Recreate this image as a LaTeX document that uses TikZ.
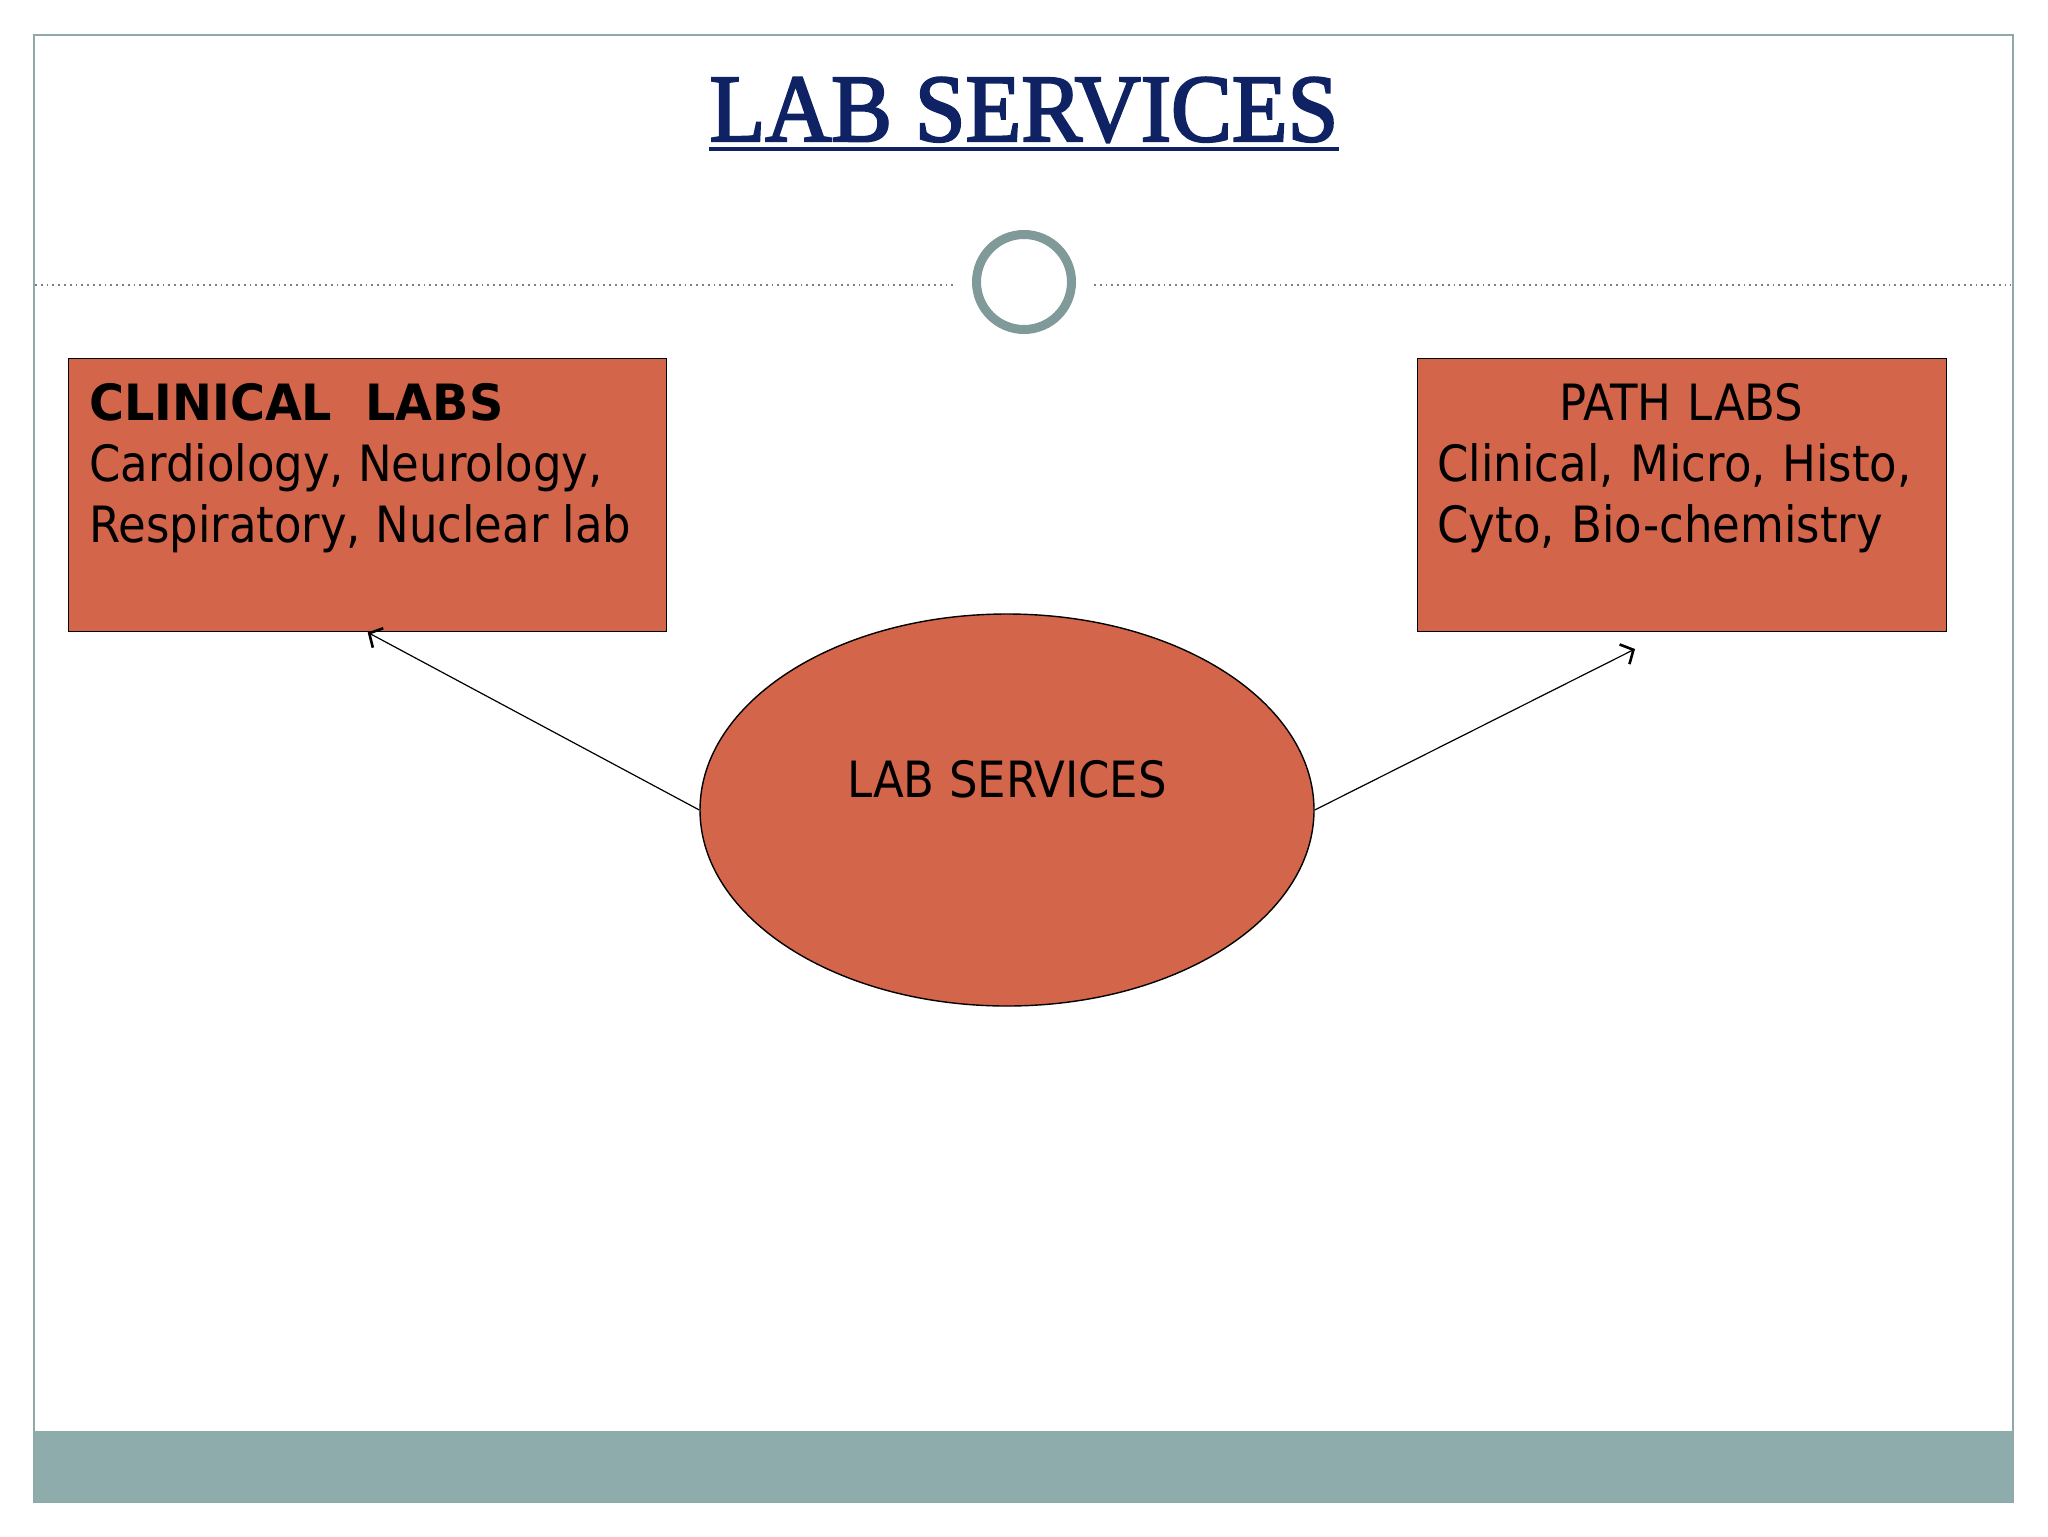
\documentclass[tikz,border=0pt]{standalone}
\usepackage{fontspec}
\setmainfont{DejaVu Sans Condensed}
\newfontfamily\titlefont[FakeBold=2.5]{Liberation Serif}
\usetikzlibrary{shapes.geometric, arrows.meta}
\definecolor{labred}{RGB}{211,101,75}
\definecolor{titlenavy}{RGB}{15,35,100}
\definecolor{framegray}{RGB}{143,168,168}
\definecolor{bandgray}{RGB}{143,172,173}
\definecolor{ringgray}{RGB}{127,154,152}
\tikzset{labbox/.style={rectangle, draw=black, line width=0.7pt, fill=labred, inner sep=0pt}}
\tikzset{labtext/.style={inner sep=0pt, align=left, font=\fontsize{25}{30.5}\selectfont}}
\tikzset{labarrow/.style={line width=0.6pt, -{Straight Barb[length=5pt, width=11pt, line width=1.3pt]}}}

\begin{document}
\begin{tikzpicture}[x=0.5pt, y=-0.5pt]
        \useasboundingbox (0,0) rectangle (2048,1536);
        % frame and bottom band
        \draw[framegray, line width=0.8pt] (34,35) rectangle (2013,1502);
        \fill[bandgray] (34,1431) rectangle (2013,1502);

        % title
        \node[inner sep=0pt, anchor=base, text=titlenavy, font=\titlefont\fontsize{48}{50}\selectfont] (title) at (1024,141) {\scalebox{0.95}[1]{LAB SERVICES}};
        \draw[titlenavy, line width=2pt] ([yshift=-4pt]title.base west) -- ([yshift=-4pt]title.base east);

        % divider with ring
        \draw[gray, line width=0.9pt, dotted] (35,285) -- (953,285);
        \draw[gray, line width=0.9pt, dotted] (1094,285) -- (2011,285);
        \node[circle, draw=ringgray, line width=4.5pt, minimum size=47.5pt, inner sep=0pt] (ring) at (1024,282) {};

        % boxes
        \node[labbox, anchor=north west, minimum width=299pt, minimum height=136.5pt] (clinical) at (68,358) {};
        \node[labtext, anchor=north west] (clinicaltext) at (89,383) {{\bfseries\addfontfeature{FakeStretch=1.06}CLINICAL\ \ LABS}\\Cardiology, Neurology,\\Respiratory, Nuclear lab};
        \node[labbox, anchor=north west, minimum width=264.5pt, minimum height=136.5pt] (path) at (1417,358) {};
        \node[labtext, anchor=north west, text width=255pt] (pathtext) at (1437,383) {\makebox[244pt]{PATH LABS}\\Clinical, Micro, Histo,\\Cyto, Bio-chemistry};

        % centre
        \node[ellipse, draw=black, line width=0.7pt, fill=labred, minimum width=307pt, minimum height=196pt, inner sep=0pt] (core) at (1007,810) {};
        \node[labtext, anchor=base] (coretext) at (1007,797) {LAB SERVICES};

        % arrows
        \coordinate (pathtip) at (1635,649);
        \draw[labarrow] (core.west) -- (clinical.south);
        \draw[labarrow] (core.east) -- (pathtip);
\end{tikzpicture}
\end{document}
